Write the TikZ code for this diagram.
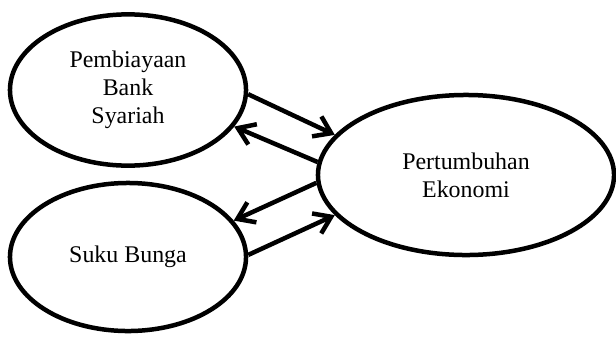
\documentclass[tikz,border=0pt]{standalone}
\usepackage{fontspec}
\setmainfont{Liberation Serif}
\usetikzlibrary{shapes.geometric,arrows.meta}
\begin{document}
\begin{tikzpicture}[x=0.025cm, y=-0.025cm,
    var/.style={ellipse, draw, line width=3.2pt, align=center, inner sep=0pt,
                font=\fontsize{17}{20}\selectfont},
    link/.style={line width=3.2pt, -{Straight Barb[length=4mm,width=5.5mm]}}]
  \useasboundingbox (0,0) rectangle (616,336);
  \node (bank) [var, minimum width=5.9cm, minimum height=3.78cm] at (128,90) {Pembiayaan\\Bank\\Syariah};
  \node (bunga) [var, minimum width=5.9cm, minimum height=3.7cm] at (128,257) {Suku Bunga};
  \node (ekonomi) [var, minimum width=7.4cm, minimum height=4cm] at (466,175) {Pertumbuhan\\Ekonomi};
  \draw[link] (bank.-2) -- (ekonomi.163);
  \draw[link] (ekonomi.175) -- (bank.-19);
  \draw[link] (ekonomi.183) -- (bunga.19);
  \draw[link] (bunga.1) -- (ekonomi.197);
\end{tikzpicture}
\end{document}
